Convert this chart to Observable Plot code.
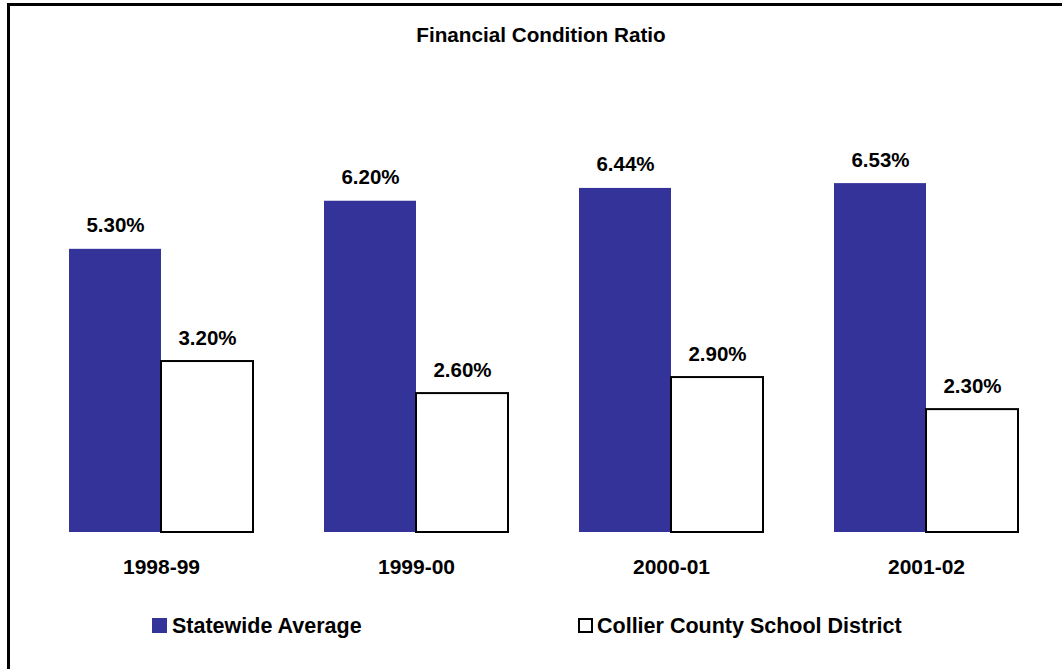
<!DOCTYPE html>
<html>
<head>
<meta charset="utf-8">
<script src="https://cdn.jsdelivr.net/npm/d3@7"></script>
<script src="https://cdn.jsdelivr.net/npm/@observablehq/plot@0.6"></script>
<style>
  html, body { margin: 0; padding: 0; background: #fff; }
  #wrap { position: relative; width: 1062px; height: 669px; overflow: hidden; background: #fff;
          font-family: "Liberation Sans", Arial, Helvetica, sans-serif; font-weight: bold; color: #000; }
  #frame { position: absolute; left: 7px; top: 3px; width: 1100px; height: 700px;
           border-top: 3px solid #000; border-left: 3px solid #000; pointer-events: none; z-index: 5; }
  #title { position: relative; height: 60px; }
  #title span { position: absolute; left: 341px; width: 400px; top: 25px; text-align: center;
                font-size: 20.7px; line-height: 20px; }
  #chart { height: 540px; }
  #legend { position: relative; height: 69px; }
  .sw { position: absolute; top: 18px; width: 15px; height: 15px; box-sizing: border-box; }
  .lt { position: absolute; top: 16px; font-size: 21.5px; line-height: 20px; white-space: nowrap; }
</style>
</head>
<body>
<div id="wrap">
  <div id="frame"></div>
  <div id="title"><span>Financial Condition Ratio</span></div>
  <div id="chart"></div>
  <div id="legend"></div>
</div>
<script>
const years = ["1998-99", "1999-00", "2000-01", "2001-02"];
const series = ["Statewide Average", "Collier County School District"];
const statewide = [5.30, 6.20, 6.44, 6.53];
const collier = [3.20, 2.60, 2.90, 2.30];
const colors = ["#333399", "#ffffff"];

const data = [];
years.forEach((y, i) => {
  data.push({year: y, series: series[0], value: statewide[i]});
  data.push({year: y, series: series[1], value: collier[i]});
});

const chart = Plot.plot({
  width: 1062,
  height: 540,
  marginLeft: 68,
  marginRight: 43,
  marginTop: 98,
  marginBottom: 68,
  style: {fontFamily: '"Liberation Sans", Arial, Helvetica, sans-serif', fontSize: "20.5px", fontWeight: "bold", color: "#000", background: "#fff"},
  fx: {domain: years, paddingInner: 0.28, paddingOuter: 0, axis: null, label: null},
  x: {domain: series, padding: 0, axis: null},
  y: {domain: [0, 7], axis: null},
  color: {domain: series, range: colors},
  marks: [
    Plot.barY(data, {fx: "year", x: "series", y: "value", fill: "series",
      stroke: d => d.series === series[1] ? "#000" : "none", strokeWidth: 2}),
    Plot.text(data, {fx: "year", x: "series", y: "value",
      text: d => d.value.toFixed(2) + "%", lineAnchor: "bottom", dy: -17,
      fontSize: 20.5, fontWeight: "bold", fill: "#000"}),
    Plot.text(years, {fx: d => d, text: d => d, frameAnchor: "bottom", lineAnchor: "bottom", dy: 41,
      fontSize: 21, fontWeight: "bold", fill: "#000"})
  ]
});
document.getElementById("chart").appendChild(chart);

const legend = document.getElementById("legend");
const legendX = [[152, 172], [578, 597]];
series.forEach((s, i) => {
  const sw = document.createElement("div");
  sw.className = "sw";
  sw.style.left = legendX[i][0] + "px";
  sw.style.background = colors[i];
  if (i === 1) sw.style.border = "2px solid #000";
  legend.appendChild(sw);
  const t = document.createElement("div");
  t.className = "lt";
  t.style.left = legendX[i][1] + "px";
  t.textContent = s;
  legend.appendChild(t);
});
</script>
</body>
</html>
